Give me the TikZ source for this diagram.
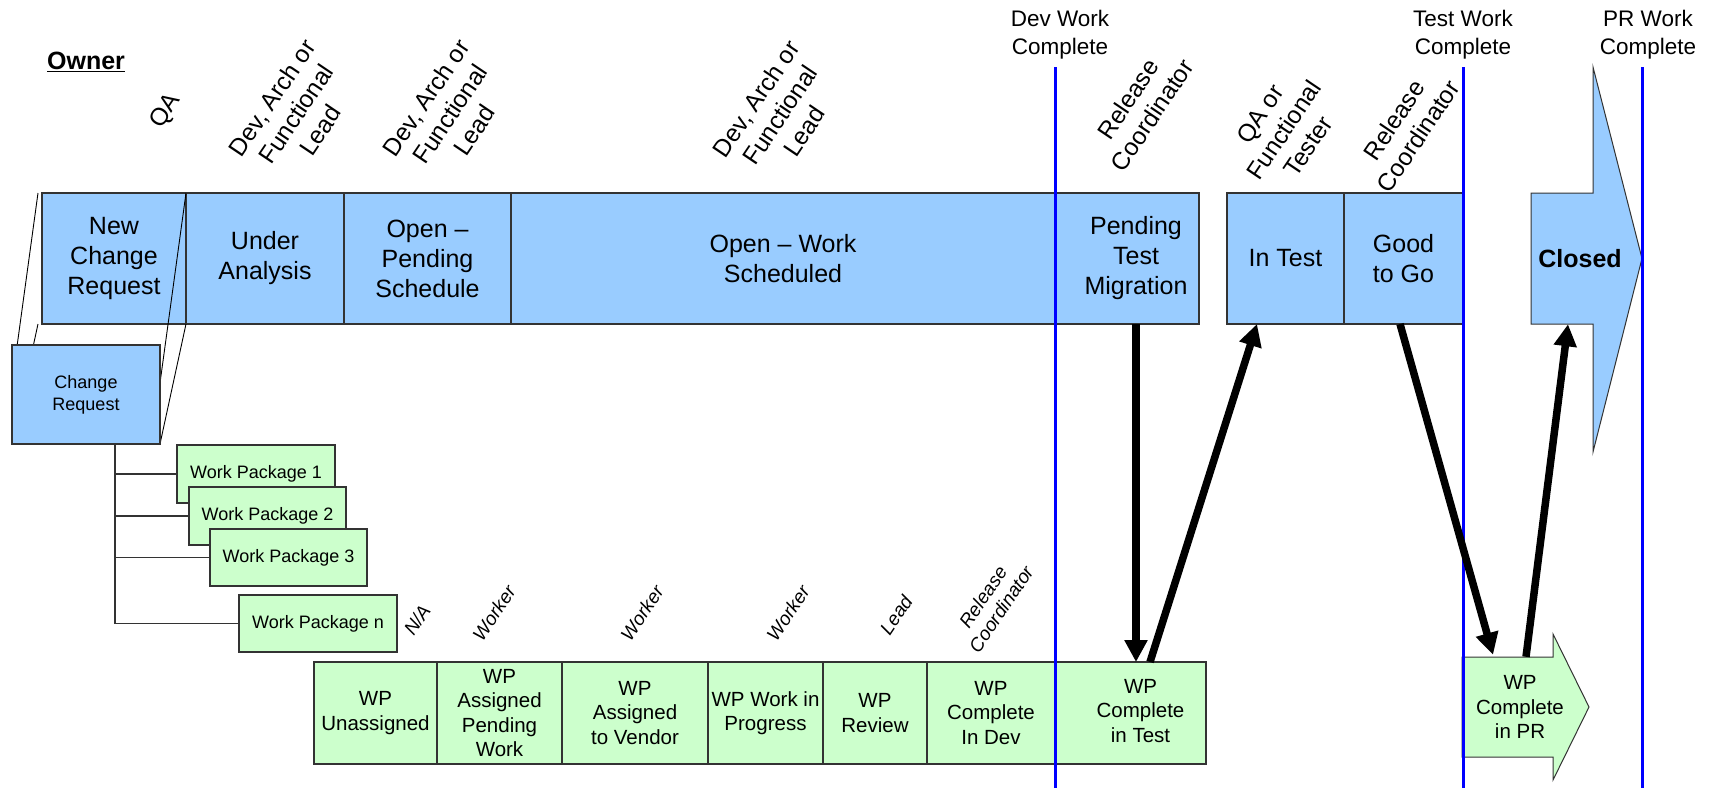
\documentclass[tikz,border=0pt]{standalone}
\usepackage{fontspec}
\setmainfont{Liberation Sans}
\usetikzlibrary{arrows.meta}
\definecolor{cblue}{HTML}{99CCFF}
\definecolor{cgreen}{HTML}{CCFFCC}
\definecolor{mblue}{HTML}{0000FF}
\definecolor{edge}{HTML}{333333}
\newcommand{\stk}[1]{\begin{tabular}{@{}c@{}}#1\end{tabular}}
\begin{document}
\begin{tikzpicture}[x=1pt,y=-1pt,
  cell/.style={draw=edge, line width=1.2pt, inner sep=0pt, outer sep=0pt, align=center},
  barcell/.style={cell, fill=cblue, font=\fontsize{25pt}{30pt}\selectfont},
  wpcell/.style={cell, fill=cgreen, font=\fontsize{20.5pt}{24.6pt}\selectfont},
  pkg/.style={cell, fill=cgreen, font=\fontsize{18pt}{21pt}\selectfont},
  role/.style={rotate=56, align=center, inner sep=0pt, font=\fontsize{24.5pt}{29pt}\selectfont},
  wrole/.style={rotate=56, align=center, inner sep=0pt, font=\fontsize{19pt}{22pt}\selectfont\itshape},
  milestone/.style={align=center, inner sep=0pt, font=\fontsize{22.5pt}{28pt}\selectfont},
  mline/.style={draw=mblue, line width=3pt},
  flow/.style={line width=7.5pt, -{Triangle[length=22pt,width=22pt]}},
  tree/.style={draw=edge, line width=1.5pt},
  zoomline/.style={draw=black, line width=0.9pt}]
\useasboundingbox (0,0) rectangle (1714,788);

% Owner
\node[inner sep=0pt, font=\bfseries\fontsize{25pt}{30pt}\selectfont] (owner) at (86,62) {\underline{Owner}};

% top bar
\node[barcell, minimum width=144pt, minimum height=131pt] (ncr) at (114,258.5) {New\\Change\\Request};
\node[barcell, minimum width=158pt, minimum height=131pt] (ua) at (265,258.5) {Under\\Analysis};
\node[barcell, minimum width=167pt, minimum height=131pt] (ops) at (427.5,258.5) {Open –\\Pending\\Schedule};
\node[barcell, minimum width=544pt, minimum height=131pt] (ows) at (783,258.5) {Open – Work\\Scheduled};
\node[barcell, minimum width=144pt, minimum height=131pt] (ptm) at (1127,258.5) {\hspace*{18pt}\stk{Pending\\Test\\Migration}};
\node[barcell, minimum width=117pt, minimum height=131pt] (intest) at (1285.5,258.5) {In Test};
\node[barcell, minimum width=119pt, minimum height=131pt] (gtg) at (1403.5,258.5) {Good\\to Go};

% zoom lines from New Change Request to Change Request
\draw[zoomline] ([xshift=-4pt]ncr.north west) -- (12,383);
\draw[zoomline] (ncr.north east) -- (160,383);
\draw[zoomline] ([xshift=-4pt]ncr.south west) -- (12,444);
\draw[zoomline] (ncr.south east) -- (160,444);

\node[cell, fill=cblue, minimum width=148pt, minimum height=99pt, font=\fontsize{18pt}{22pt}\selectfont] (cr) at (86,394.5) {Change\\Request};

% tree
\node[pkg, minimum width=158pt, minimum height=58pt] (wp1) at (256,474) {\raisebox{3pt}{Work Package 1}};
\node[pkg, minimum width=157pt, minimum height=58pt] (wp2) at (267.5,516) {\raisebox{3pt}{Work Package 2}};
\node[pkg, minimum width=157pt, minimum height=57pt] (wp3) at (288.5,557.5) {\raisebox{3pt}{Work Package 3}};
\node[pkg, minimum width=158pt, minimum height=57pt] (wpn) at (318,623.5) {\raisebox{3pt}{Work Package n}};
\draw[tree] ([xshift=29pt]cr.south) |- (wp1.west);
\draw[tree] ([xshift=29pt]cr.south) |- (wp2.west);
\draw[tree] ([xshift=29pt]cr.south) |- (wp3.west);
\draw[tree] ([xshift=29pt]cr.south) |- (wpn.west);

% bottom row
\node[wpcell, minimum width=123pt, minimum height=102pt] (wpu) at (375.5,713) {WP\\Unassigned};
\node[wpcell, minimum width=125pt, minimum height=102pt] (wpapw) at (499.5,713) {WP\\Assigned\\Pending\\Work};
\node[wpcell, minimum width=146pt, minimum height=102pt] (wpav) at (635,713) {WP\\Assigned\\to Vendor};
\node[wpcell, minimum width=115pt, minimum height=102pt] (wpwip) at (765.5,713) {WP Work in\\Progress};
\node[wpcell, minimum width=104pt, minimum height=102pt] (wpr) at (875,713) {WP\\Review};
\node[wpcell, minimum width=128pt, minimum height=102pt] (wpcd) at (991,713) {WP\\Complete\\In Dev};
\node[wpcell, minimum width=151pt, minimum height=102pt] (wpt) at (1130.5,713) {\hspace*{20pt}\stk{WP\\Complete\\in Test}};

% Closed arrow
\draw[draw=edge, line width=1pt, fill=cblue] (1531,193) -- (1593,193) -- (1593,67) -- (1642,258.5) -- (1593,452) -- (1593,324) -- (1531,324) -- cycle;
\node[inner sep=0pt, minimum height=131pt, font=\bfseries\fontsize{25pt}{30pt}\selectfont] (closed) at (1580,258.5) {Closed};

% WP complete in PR arrow
\draw[draw=edge, line width=1pt, fill=cgreen] (1462,657) -- (1553,657) -- (1553,634) -- (1589,707) -- (1553,780) -- (1553,757) -- (1462,757) -- cycle;
\node[inner sep=0pt, minimum height=100pt, align=center, font=\fontsize{20.5pt}{24.6pt}\selectfont] (wppr) at (1520,707) {WP\\Complete\\in PR};

% milestone lines
\draw[mline] (1055,67) -- (1055,788);
\draw[mline] (1463,67) -- (1463,788);
\draw[mline] (1642,67) -- (1642,788);
\node[milestone] (m1) at (1060,35) {Dev Work\\Complete};
\node[milestone] (m2) at (1463,35) {Test Work\\Complete};
\node[milestone] (m3) at (1648,35) {PR Work\\Complete};

% owner roles (top)
\node[role] (r1) at (166,111) {QA};
\node[role] (r2) at (296,114) {Dev, Arch or\\Functional\\Lead};
\node[role] (r3) at (450,114) {Dev, Arch or\\Functional\\Lead};
\node[role] (r4) at (780,115) {Dev, Arch or\\Functional\\Lead};
\node[role] (r5) at (1140,107) {Release\\Coordinator};
\node[role] (r6) at (1284,130) {QA or\\Functional\\Tester};
\node[role] (r7) at (1406,128) {Release\\Coordinator};

% owner roles (bottom)
\node[wrole] (b1) at (417,620) {N/A};
\node[wrole] (b2) at (494,613) {Worker};
\node[wrole] (b3) at (642,613) {Worker};
\node[wrole] (b4) at (788,613) {Worker};
\node[wrole] (b5) at (896,615) {Lead};
\node[wrole] (b6) at (992,603) {Release\\Coordinator};

% flow arrows
\coordinate (a1s) at ([xshift=9pt]ptm.south);
\draw[flow] (a1s) -- (a1s |- wpt.north);
\draw[flow] ([xshift=19.5pt]wpt.north) -- ([xshift=-28.5pt]intest.south);
\draw[flow] ([xshift=-3.5pt]gtg.south) -- ([xshift=-27pt,yshift=2pt]wppr.north);
\draw[flow] ([xshift=6pt]wppr.north) -- ([xshift=-12pt]closed.south);
\end{tikzpicture}
\end{document}
